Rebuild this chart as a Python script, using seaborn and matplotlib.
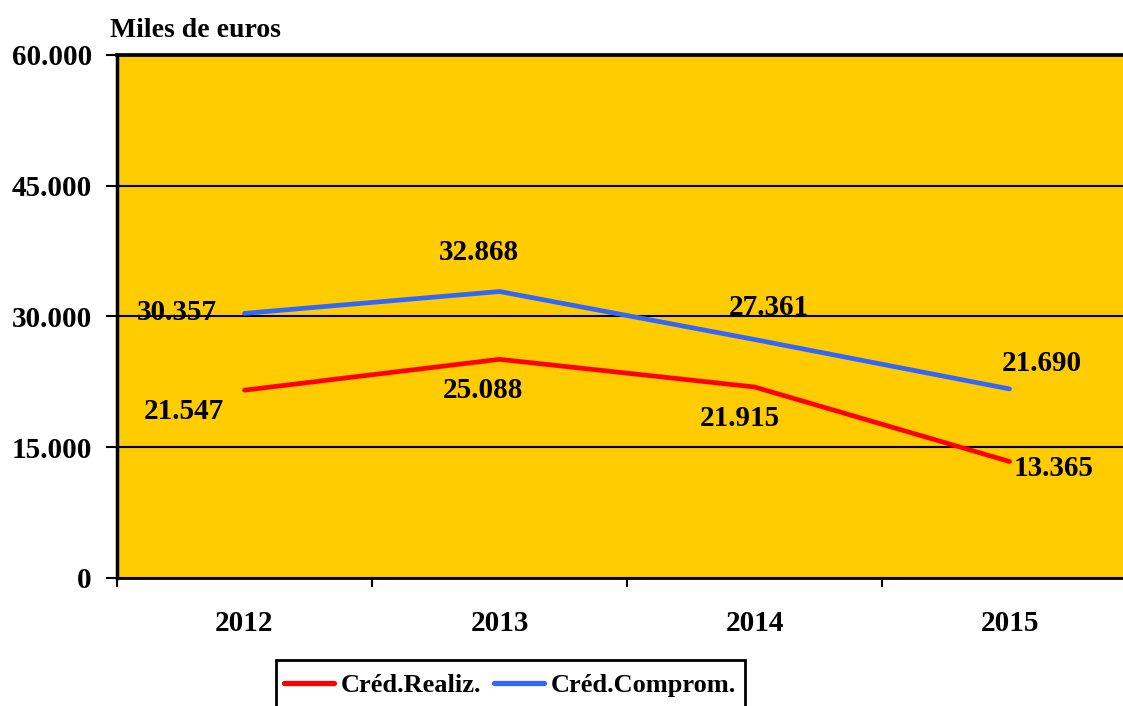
import matplotlib
matplotlib.use("Agg")
import matplotlib.pyplot as plt
from matplotlib.patches import Rectangle
import seaborn as sns
import pandas as pd

years = [2012, 2013, 2014, 2015]
realiz = [21547, 25088, 21915, 13365]
comprom = [30357, 32868, 27361, 21690]
series_names = ["Créd.Realiz.", "Créd.Comprom."]
y_ticks = [0, 15000, 30000, 45000, 60000]

# label offsets in pixels (dx, dy up), baseline aligned
off_realiz = [(-61, -29), (-17, -39), (-15, -39), (44, -14)]
off_comprom = [(-68, -7), (-21, 32), (14, 25), (32, 18)]


def fmt(v):
    return f"{v:,}".replace(",", ".")


df = pd.DataFrame({
    "year": years * 2,
    "value": realiz + comprom,
    "serie": [series_names[0]] * 4 + [series_names[1]] * 4,
})

plt.rcParams["font.family"] = ["Liberation Serif", "DejaVu Serif"]
plt.rcParams["font.weight"] = "bold"

fig = plt.figure(figsize=(11.23, 7.06), dpi=100)
W, H = 1123, 706
ax = fig.add_axes([117 / W, 1 - 578 / H, 1020 / W, (578 - 55) / H])
ax.set_facecolor("#FFCC00")

sns.lineplot(data=df, x="year", y="value", hue="serie",
             palette=["#FF0000", "#3366FF"], linewidth=3.4,
             solid_capstyle="round", ax=ax)

ax.set_xlim(years[0] - 0.5, years[-1] + 0.5)
ax.set_ylim(y_ticks[0], y_ticks[-1])
ax.set_yticks(y_ticks)
ax.set_yticklabels([fmt(v) for v in y_ticks])
ax.set_xticks(years)
ax.set_xticklabels([str(y) for y in years])
ax.set_xticks([y + 0.5 for y in [years[0] - 1] + years], minor=True)
ax.set_xlabel("")
ax.set_ylabel("")

ax.tick_params(axis="y", length=8, width=1.5, pad=10, labelsize=21, colors="black")
ax.tick_params(axis="x", which="major", length=0, pad=23, labelsize=21)
ax.tick_params(axis="x", which="minor", length=6.5, width=1.5)

ax.yaxis.grid(True, color="black", linewidth=1.5)
ax.set_axisbelow(True)
for side, lw in [("left", 2.5), ("top", 2.7), ("bottom", 2.0), ("right", 2.0)]:
    ax.spines[side].set_color("black")
    ax.spines[side].set_linewidth(lw)

for vals, offs in [(realiz, off_realiz), (comprom, off_comprom)]:
    for x, v, (dx, dy) in zip(years, vals, offs):
        ax.annotate(fmt(v), (x, v), xytext=(dx, dy), textcoords="offset pixels",
                    ha="center", va="baseline", fontsize=21, fontweight="bold")

handles, labels = ax.get_legend_handles_labels()
ax.get_legend().remove()
leg = fig.legend(handles, labels, loc="upper left",
                 bbox_to_anchor=(276 / W, 1 - 666 / H), borderaxespad=0,
                 ncol=2, fontsize=19, frameon=False, handlelength=1.9,
                 handletextpad=0.25, columnspacing=0.5, borderpad=0.3)
for line in leg.get_lines():
    line.set_linewidth(3.8)
    line.set_solid_capstyle("round")

# legend box, cut by the bottom edge of the figure as in the original
fig.patches.append(Rectangle((276 / W, -0.05), (745 - 276) / W, 0.05 + 46 / H,
                             transform=fig.transFigure, facecolor="white",
                             edgecolor="black", linewidth=2, zorder=0))

fig.text(110 / W, 1 - 37 / H, "Miles de euros", fontsize=20,
         fontweight="bold", va="baseline", ha="left")

fig.savefig("out.png", dpi=100)
